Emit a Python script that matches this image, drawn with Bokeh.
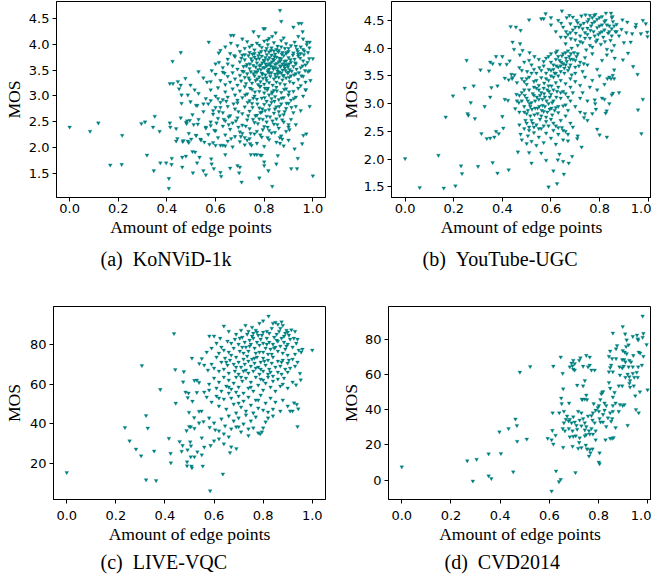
from bokeh.plotting import figure
from bokeh.models import Range1d, FixedTicker, PrintfTickFormatter, Title
from bokeh.layouts import row, column
from bokeh.embed import file_html
from bokeh.resources import INLINE

# ---------------- data ----------------
x_ticks = [0.0, 0.2, 0.4, 0.6, 0.8, 1.0]
mos5_ticks = [1.5, 2.0, 2.5, 3.0, 3.5, 4.0, 4.5]
livevqc_ticks = [20, 40, 60, 80]
cvd_ticks = [0, 20, 40, 60, 80]

x_label = "Amount of edge points"
y_label = "MOS"
captions = ["(a)\u2002KoNViD-1k", "(b)\u2002YouTube-UGC", "(c)\u2002LIVE-VQC", "(d)\u2002CVD2014"]

konvid_points = [
    (0.00, 2.40), (0.084, 2.32), (0.118, 2.48), (0.167, 1.67), (0.214, 1.68), (0.216, 2.24), (0.295, 2.47),
    (0.31, 2.50), (0.318, 1.86), (0.343, 2.40), (0.346, 1.56), (0.35, 2.61), (0.37, 2.32), (0.373, 1.71),
    (0.397, 1.71), (0.408, 1.41), (0.408, 1.22), (0.412, 3.24), (0.423, 3.67), (0.425, 3.24), (0.412, 2.48),
    (0.414, 2.40), (0.419, 1.68), (0.42, 1.80), (0.438, 2.37), (0.443, 2.18), (0.438, 2.13), (0.445, 3.28),
    (0.45, 3.14), (0.457, 3.84), (0.457, 3.21), (0.457, 2.58), (0.46, 3.02), (0.46, 2.86), (0.463, 1.82),
    (0.463, 1.63), (0.465, 2.12), (0.468, 2.14), (0.476, 3.34), (0.478, 1.84), (0.479, 2.49), (0.481, 2.47),
    (0.483, 2.52), (0.486, 3.02), (0.486, 2.13), (0.49, 2.10), (0.49, 2.28), (0.494, 2.53), (0.497, 2.89),
    (0.497, 3.21), (0.50, 2.17), (0.505, 1.93), (0.505, 2.64), (0.507, 1.52),
    (0.865, 4.65), (0.87, 4.44), (0.797, 4.30), (0.803, 4.30), (0.756, 4.24), (0.847, 4.22), (0.663, 4.17),
    (0.674, 4.17), (0.572, 4.04), (0.663, 4.02), (0.777, 4.15), (0.833, 4.15), (0.813, 4.08), (0.92, 4.33),
    (0.942, 4.40), (0.953, 4.40), (0.958, 4.24), (0.94, 4.15), (0.976, 4.04), (0.987, 4.04), (0.986, 3.93),
    (1.0, 3.72), (0.987, 3.49), (0.987, 2.80), (0.53, 3.47), (0.514, 3.12), (0.565, 3.27), (0.584, 3.49),
    (0.613, 3.83), (0.614, 3.65), (0.637, 3.44), (0.65, 3.62), (0.677, 3.78), (0.525, 2.82), (0.55, 2.85),
    (0.58, 2.91), (0.59, 2.72), (0.61, 2.95), (0.62, 2.78), (0.527, 2.46), (0.56, 2.40), (0.58, 2.43),
    (0.595, 2.34), (0.52, 2.24), (0.538, 2.17), (0.554, 2.11), (0.575, 2.07), (0.60, 2.05), (0.63, 2.05),
    (0.64, 2.04), (0.516, 1.92), (0.534, 1.82), (0.524, 1.71), (0.55, 1.56), (0.56, 1.48), (0.582, 1.79),
    (0.584, 1.69), (0.593, 1.60), (0.62, 1.53), (0.623, 1.45), (0.66, 1.61), (0.64, 1.87), (0.69, 1.66),
    (0.70, 1.63), (0.707, 1.34), (0.697, 1.52), (0.78, 1.42), (0.80, 1.73), (0.80, 1.66), (0.817, 1.56),
    (0.833, 1.26), (0.85, 1.69), (0.856, 1.85), (0.911, 1.60), (0.935, 1.60), (0.938, 1.80), (0.925, 1.98),
    (0.956, 2.08), (0.973, 2.27), (0.961, 2.24), (1.0, 1.46), (0.745, 1.87), (0.76, 1.87), (0.77, 1.87),
    (0.784, 1.86), (0.79, 1.86), (0.742, 2.08), (0.748, 2.05), (0.72, 2.20), (0.73, 2.15), (0.865, 2.09),
    (0.874, 2.17), (0.90, 2.40), (0.904, 2.35),
    (0.62, 3.88), (0.64, 3.95), (0.66, 3.82), (0.69, 3.97), (0.70, 3.86), (0.72, 3.92), (0.73, 4.05),
    (0.74, 3.84), (0.75, 3.98), (0.76, 3.89), (0.77, 4.02), (0.78, 3.83), (0.79, 3.94), (0.80, 4.06),
    (0.805, 3.87), (0.815, 3.99), (0.82, 3.85), (0.83, 3.93), (0.84, 4.03), (0.845, 3.81), (0.855, 3.96),
    (0.86, 3.88), (0.87, 4.07), (0.875, 3.84), (0.885, 3.92), (0.89, 4.01), (0.90, 3.86), (0.91, 3.97),
    (0.92, 3.83), (0.925, 4.04), (0.935, 3.90), (0.94, 3.81), (0.95, 3.95), (0.965, 3.87), (0.975, 3.99),
    (0.98, 3.84), (0.71, 4.10), (0.82, 4.11), (0.88, 4.12), (0.96, 4.10),
    (0.60, 3.62), (0.63, 3.55), (0.65, 3.71), (0.67, 3.58), (0.68, 3.76), (0.69, 3.52), (0.70, 3.66),
    (0.71, 3.79), (0.715, 3.57), (0.72, 3.70), (0.73, 3.61), (0.735, 3.78), (0.74, 3.53), (0.75, 3.68),
    (0.755, 3.59), (0.76, 3.75), (0.77, 3.64), (0.775, 3.51), (0.78, 3.72), (0.785, 3.60), (0.79, 3.77),
    (0.795, 3.55), (0.80, 3.67), (0.805, 3.74), (0.81, 3.58), (0.815, 3.70), (0.82, 3.52), (0.825, 3.63),
    (0.83, 3.79), (0.835, 3.56), (0.84, 3.69), (0.845, 3.61), (0.85, 3.75), (0.855, 3.53), (0.86, 3.66),
    (0.865, 3.58), (0.87, 3.72), (0.875, 3.62), (0.88, 3.78), (0.885, 3.54), (0.89, 3.68), (0.895, 3.60),
    (0.90, 3.74), (0.905, 3.51), (0.91, 3.65), (0.92, 3.57), (0.925, 3.71), (0.93, 3.62), (0.94, 3.77),
    (0.95, 3.55), (0.96, 3.68), (0.97, 3.60), (0.985, 3.72), (0.765, 3.56), (0.792, 3.64), (0.832, 3.66),
    (0.862, 3.73), (0.882, 3.58), (0.902, 3.62), (0.822, 3.74), (0.802, 3.55),
    (0.55, 3.35), (0.58, 3.28), (0.60, 3.42), (0.62, 3.30), (0.63, 3.46), (0.64, 3.22), (0.65, 3.38),
    (0.66, 3.27), (0.67, 3.45), (0.68, 3.33), (0.69, 3.21), (0.70, 3.40), (0.705, 3.29), (0.71, 3.48),
    (0.72, 3.36), (0.725, 3.24), (0.73, 3.43), (0.74, 3.31), (0.745, 3.47), (0.75, 3.25), (0.76, 3.39),
    (0.765, 3.30), (0.77, 3.46), (0.775, 3.22), (0.78, 3.37), (0.785, 3.28), (0.79, 3.44), (0.795, 3.34),
    (0.80, 3.23), (0.805, 3.41), (0.81, 3.30), (0.815, 3.49), (0.82, 3.26), (0.825, 3.38), (0.83, 3.45),
    (0.835, 3.21), (0.84, 3.33), (0.845, 3.42), (0.85, 3.27), (0.855, 3.48), (0.86, 3.36), (0.865, 3.24),
    (0.87, 3.44), (0.875, 3.31), (0.88, 3.40), (0.885, 3.22), (0.89, 3.35), (0.90, 3.46), (0.905, 3.28),
    (0.91, 3.39), (0.92, 3.25), (0.93, 3.43), (0.94, 3.32), (0.95, 3.20), (0.96, 3.38), (0.97, 3.27),
    (0.98, 3.47), (0.99, 3.30),
    (0.53, 3.05), (0.56, 2.95), (0.58, 3.12), (0.60, 3.00), (0.61, 3.16), (0.63, 2.93), (0.64, 3.08),
    (0.65, 2.98), (0.67, 3.14), (0.68, 3.02), (0.69, 2.92), (0.70, 3.10), (0.71, 2.97), (0.72, 3.18),
    (0.73, 3.04), (0.74, 2.91), (0.75, 3.13), (0.76, 3.00), (0.77, 2.94), (0.78, 3.09), (0.785, 3.19),
    (0.79, 2.96), (0.80, 3.06), (0.81, 2.90), (0.815, 3.15), (0.82, 3.02), (0.83, 2.95), (0.84, 3.11),
    (0.845, 2.99), (0.85, 3.17), (0.86, 2.93), (0.87, 3.07), (0.88, 2.97), (0.89, 3.14), (0.90, 3.02),
    (0.91, 2.92), (0.92, 3.09), (0.93, 2.98), (0.94, 3.15), (0.96, 3.00), (0.97, 3.12), (0.755, 2.96),
    (0.803, 3.15), (0.833, 3.08),
    (0.52, 2.82), (0.55, 2.70), (0.57, 2.85), (0.59, 2.65), (0.60, 2.78), (0.62, 2.88), (0.63, 2.68),
    (0.65, 2.80), (0.66, 2.62), (0.68, 2.75), (0.69, 2.87), (0.71, 2.66), (0.72, 2.79), (0.74, 2.71),
    (0.75, 2.86), (0.77, 2.63), (0.78, 2.77), (0.79, 2.69), (0.80, 2.84), (0.81, 2.61), (0.82, 2.74),
    (0.83, 2.88), (0.84, 2.67), (0.85, 2.79), (0.86, 2.70), (0.87, 2.85), (0.88, 2.64), (0.89, 2.76),
    (0.90, 2.86), (0.92, 2.68), (0.93, 2.80), (0.95, 2.72), (0.971, 3.12),
    (0.51, 2.45), (0.53, 2.55), (0.56, 2.38), (0.58, 2.50), (0.60, 2.33), (0.61, 2.57), (0.63, 2.42),
    (0.64, 2.52), (0.66, 2.36), (0.67, 2.48), (0.69, 2.58), (0.70, 2.31), (0.71, 2.44), (0.73, 2.54),
    (0.74, 2.37), (0.76, 2.49), (0.77, 2.32), (0.78, 2.56), (0.80, 2.41), (0.81, 2.50), (0.82, 2.34),
    (0.84, 2.46), (0.85, 2.56), (0.86, 2.38), (0.88, 2.50), (0.89, 2.32), (0.90, 2.45), (0.91, 2.55),
    (0.93, 2.45),
    (0.52, 2.24), (0.54, 2.15), (0.57, 2.26), (0.59, 2.10), (0.61, 2.20), (0.62, 2.05), (0.64, 2.25),
    (0.65, 2.13), (0.67, 2.02), (0.68, 2.22), (0.70, 2.12), (0.71, 2.28), (0.72, 2.06), (0.74, 2.18),
    (0.76, 2.27), (0.77, 2.09), (0.79, 2.21), (0.80, 2.03), (0.82, 2.16), (0.83, 2.29), (0.85, 2.11),
    (0.87, 2.23), (0.88, 2.04), (0.90, 2.15),
    (0.741, 3.62), (0.752, 3.81), (0.763, 3.47), (0.768, 3.71), (0.772, 3.33), (0.781, 3.58), (0.788, 3.86),
    (0.793, 3.42), (0.798, 3.69), (0.808, 3.35), (0.811, 3.80), (0.818, 3.61), (0.823, 3.44), (0.828, 3.88),
    (0.838, 3.52), (0.842, 3.76), (0.848, 3.37), (0.852, 3.63), (0.858, 3.85), (0.863, 3.46), (0.868, 3.57),
    (0.872, 3.81), (0.878, 3.39), (0.883, 3.67), (0.888, 3.49), (0.893, 3.84), (0.898, 3.56), (0.903, 3.36),
    (0.908, 3.70), (0.913, 3.48), (0.918, 3.79), (0.923, 3.41), (0.928, 3.64), (0.933, 3.52), (0.938, 3.86),
    (0.943, 3.45), (0.948, 3.73), (0.953, 3.39), (0.958, 3.58), (0.963, 3.80), (0.968, 3.49), (0.978, 3.65),
    (0.846, 3.55), (0.856, 3.43), (0.866, 3.68), (0.876, 3.50), (0.886, 3.61), (0.896, 3.44), (0.826, 3.58),
    (0.836, 3.71), (0.816, 3.46), (0.806, 3.62), (0.786, 3.51), (0.776, 3.78), (0.756, 3.43), (0.746, 3.72),
    (0.736, 3.35), (0.726, 3.58), (0.716, 3.47), (0.706, 3.73),
    (0.722, 3.02), (0.732, 2.88), (0.742, 3.15), (0.752, 2.78), (0.762, 3.08), (0.772, 2.85), (0.782, 3.18),
    (0.792, 2.75), (0.802, 2.97), (0.812, 3.12), (0.822, 2.82), (0.832, 3.05), (0.842, 2.90), (0.852, 3.10),
    (0.862, 2.80), (0.872, 2.96), (0.882, 3.13), (0.892, 2.86), (0.902, 3.08), (0.912, 2.78), (0.922, 2.95),
    (0.764, 2.62), (0.774, 2.47), (0.784, 2.68), (0.794, 2.55), (0.804, 2.72), (0.814, 2.40), (0.824, 2.60),
    (0.834, 2.52), (0.844, 2.75), (0.854, 2.45), (0.864, 2.62), (0.874, 2.54), (0.884, 2.70), (0.694, 2.70),
    (0.684, 2.52), (0.674, 2.85), (0.654, 2.60), (0.644, 2.90), (0.634, 2.55), (0.614, 2.70), (0.604, 2.48),
    (0.724, 2.42), (0.734, 2.62), (0.744, 2.28), (0.754, 2.55), (0.704, 2.22), (0.694, 2.40), (0.664, 2.18),
    (0.654, 2.45), (0.784, 2.25), (0.794, 2.35), (0.814, 2.20), (0.844, 2.30), (0.864, 2.20),
    (0.72, 3.80), (0.74, 3.95), (0.78, 3.98), (0.81, 3.92), (0.85, 3.90), (0.87, 3.95), (0.90, 3.92),
    (0.93, 3.96), (0.89, 3.82), (0.84, 3.87), (0.76, 3.82), (0.96, 3.90), (0.95, 3.82),
]

youtube_points = [
    (0.0, 2.01), (0.06, 1.49), (0.137, 2.07), (0.159, 1.48), (0.207, 1.52), (0.167, 2.76), (0.197, 3.14),
    (0.23, 1.88), (0.234, 1.74), (0.245, 3.28), (0.253, 3.78), (0.257, 2.82), (0.26, 2.79), (0.27, 3.02),
    (0.282, 3.32), (0.287, 2.73), (0.30, 1.87), (0.31, 3.61), (0.314, 2.46), (0.327, 2.95), (0.336, 2.37),
    (0.35, 2.38), (0.345, 3.59), (0.35, 3.12), (0.35, 3.75), (0.36, 3.72), (0.355, 3.29), (0.36, 1.94),
    (0.367, 2.40), (0.374, 2.50), (0.38, 1.75), (0.38, 3.32), (0.374, 3.85), (0.385, 2.46), (0.39, 3.71),
    (0.40, 3.85), (0.40, 2.77), (0.404, 2.56), (0.41, 3.46), (0.41, 3.08), (0.418, 3.71), (0.423, 3.06),
    (0.426, 1.81), (0.426, 3.43), (0.43, 3.77), (0.434, 4.39), (0.456, 4.38), (0.437, 3.53), (0.442, 4.11),
    (0.442, 3.47), (0.448, 3.98), (0.453, 2.91), (0.458, 3.17), (0.464, 2.13), (0.468, 3.02), (0.473, 4.08),
    (0.475, 4.32), (0.483, 3.96),
    (0.645, 4.67), (0.578, 4.62), (0.56, 4.53), (0.57, 4.53), (0.51, 4.51), (0.60, 4.55), (0.676, 4.59),
    (0.69, 4.56), (0.76, 4.59), (0.778, 4.59), (0.826, 4.63), (0.847, 4.63), (0.853, 4.57), (0.894, 4.51),
    (0.914, 4.47), (0.95, 4.43), (0.978, 4.50), (0.99, 4.44), (0.996, 4.29), (0.997, 4.21), (0.97, 4.26),
    (0.934, 4.26), (0.948, 4.38), (0.928, 4.11), (0.917, 3.91), (0.896, 3.79), (0.938, 3.67), (0.956, 3.53),
    (0.978, 3.08), (0.958, 2.89), (0.972, 2.46), (0.86, 3.61), (0.854, 3.51), (0.84, 3.48), (0.832, 3.45),
    (0.847, 3.45), (0.855, 3.19), (0.85, 3.16), (0.829, 2.87), (0.825, 2.83), (0.82, 3.08), (0.79, 2.54),
    (0.80, 2.44), (0.83, 2.40), (0.78, 3.07), (0.782, 3.00), (0.77, 2.82), (0.74, 2.82), (0.736, 2.75),
    (0.726, 2.22), (0.708, 2.37), (0.687, 2.05), (0.673, 1.93), (0.65, 1.96), (0.635, 2.09), (0.628, 1.99),
    (0.61, 1.79), (0.653, 1.73), (0.58, 1.98), (0.56, 2.11), (0.52, 1.93), (0.51, 2.12), (0.59, 1.50),
    (0.625, 1.56), (0.67, 2.33), (0.65, 2.52), (0.66, 2.50), (0.63, 2.57), (0.645, 2.57),
    (0.60, 4.42), (0.62, 4.30), (0.63, 4.50), (0.64, 4.20), (0.65, 4.38), (0.66, 4.08), (0.665, 4.55),
    (0.67, 4.25), (0.68, 4.44), (0.685, 4.00), (0.69, 4.33), (0.70, 4.15), (0.705, 4.50), (0.71, 4.05),
    (0.715, 4.38), (0.72, 4.22), (0.725, 4.58), (0.73, 4.10), (0.735, 4.45), (0.74, 4.28), (0.745, 3.97),
    (0.75, 4.36), (0.755, 4.52), (0.76, 4.18), (0.765, 4.40), (0.77, 4.02), (0.775, 4.30), (0.78, 4.48),
    (0.785, 4.12), (0.79, 4.37), (0.795, 4.25), (0.80, 4.55), (0.805, 4.07), (0.81, 4.42), (0.815, 4.20),
    (0.82, 4.33), (0.825, 4.50), (0.83, 3.98), (0.835, 4.27), (0.84, 4.40), (0.845, 4.14), (0.85, 4.35),
    (0.855, 4.48), (0.86, 4.05), (0.865, 4.30), (0.87, 4.43), (0.88, 4.22), (0.89, 4.34), (0.90, 4.10),
    (0.91, 4.28), (0.742, 4.60), (0.783, 4.61), (0.722, 4.42), (0.762, 4.32), (0.802, 4.28), (0.822, 4.12),
    (0.702, 4.27), (0.682, 4.17), (0.662, 4.30), (0.642, 4.45),
    (0.58, 3.82), (0.59, 3.62), (0.60, 3.90), (0.61, 3.70), (0.615, 3.55), (0.62, 3.80), (0.625, 3.95),
    (0.63, 3.66), (0.635, 3.78), (0.64, 3.58), (0.645, 3.86), (0.65, 3.72), (0.655, 3.64), (0.66, 3.92),
    (0.665, 3.76), (0.67, 3.60), (0.675, 3.85), (0.68, 3.70), (0.685, 3.52), (0.69, 3.80), (0.70, 3.66),
    (0.71, 3.90), (0.72, 3.75), (0.73, 3.58), (0.74, 3.83), (0.75, 3.70), (0.77, 3.90), (0.79, 3.62),
    (0.81, 3.78), (0.83, 3.88), (0.85, 3.95), (0.862, 3.82), (0.642, 3.75), (0.662, 3.82), (0.622, 3.68),
    (0.682, 3.90),
    (0.45, 3.52), (0.46, 3.38), (0.47, 3.65), (0.48, 3.45), (0.49, 3.75), (0.50, 3.35), (0.502, 3.58),
    (0.51, 3.48), (0.52, 3.70), (0.53, 3.40), (0.532, 3.85), (0.54, 3.55), (0.55, 3.33), (0.552, 3.65),
    (0.56, 3.47), (0.57, 3.76), (0.572, 3.37), (0.58, 3.55), (0.59, 3.42), (0.60, 3.60), (0.602, 3.32),
    (0.61, 3.48), (0.62, 3.38), (0.63, 3.50), (0.64, 3.42), (0.66, 3.36), (0.68, 3.45), (0.70, 3.40),
    (0.72, 3.33), (0.74, 3.48), (0.76, 3.30), (0.44, 3.45), (0.472, 3.88), (0.512, 3.92),
    (0.46, 3.05), (0.47, 2.85), (0.48, 3.20), (0.49, 2.95), (0.495, 2.70), (0.50, 3.10), (0.505, 2.88),
    (0.51, 3.25), (0.515, 2.78), (0.52, 3.02), (0.525, 2.65), (0.53, 3.15), (0.535, 2.92), (0.54, 3.28),
    (0.545, 2.82), (0.55, 3.08), (0.555, 2.72), (0.56, 3.20), (0.565, 2.97), (0.57, 2.86), (0.575, 3.12),
    (0.58, 2.76), (0.585, 3.25), (0.59, 3.00), (0.595, 2.90), (0.60, 3.17), (0.605, 2.80), (0.61, 3.05),
    (0.62, 2.93), (0.625, 3.22), (0.63, 2.84), (0.64, 3.10), (0.65, 2.96), (0.66, 3.18), (0.67, 2.88),
    (0.68, 3.05), (0.70, 2.95), (0.72, 3.10), (0.522, 2.90), (0.542, 3.12), (0.562, 2.88), (0.582, 3.05),
    (0.552, 2.95), (0.572, 3.18), (0.532, 2.80), (0.602, 2.92), (0.622, 3.12), (0.512, 3.00), (0.592, 3.22),
    (0.50, 2.82), (0.47, 2.62), (0.492, 3.15), (0.64, 2.70), (0.66, 2.78), (0.68, 2.65),
    (0.475, 2.45), (0.48, 2.35), (0.49, 2.55), (0.50, 2.28), (0.505, 2.42), (0.51, 2.58), (0.52, 2.32),
    (0.53, 2.48), (0.54, 2.25), (0.55, 2.40), (0.56, 2.55), (0.57, 2.30), (0.58, 2.47), (0.59, 2.60),
    (0.60, 2.38), (0.61, 2.52), (0.62, 2.27), (0.63, 2.45), (0.65, 2.35), (0.67, 2.45), (0.69, 2.58),
    (0.71, 2.42),
    (0.73, 3.20), (0.75, 3.05), (0.77, 3.42), (0.785, 2.90), (0.79, 3.25), (0.80, 3.50), (0.81, 3.10),
    (0.82, 3.35), (0.84, 3.00), (0.86, 3.45), (0.88, 3.20), (0.75, 2.70), (0.72, 2.85), (0.70, 3.55),
    (0.68, 3.30),
    (0.505, 3.05), (0.515, 2.95), (0.525, 3.18), (0.535, 3.05), (0.545, 2.92), (0.555, 3.15), (0.565, 3.08),
    (0.575, 2.95), (0.585, 2.85), (0.595, 3.12), (0.605, 3.02), (0.615, 2.88), (0.52, 2.70), (0.54, 2.62),
    (0.56, 2.78), (0.58, 2.68), (0.60, 2.72), (0.62, 2.60), (0.50, 2.65), (0.53, 3.30), (0.55, 3.25),
    (0.57, 3.28), (0.59, 3.32), (0.61, 3.25), (0.63, 3.30), (0.65, 3.22), (0.49, 3.25), (0.47, 3.15),
    (0.48, 3.05), (0.49, 2.85), (0.57, 2.60), (0.55, 2.55), (0.53, 2.58), (0.51, 2.52), (0.61, 2.65),
    (0.63, 2.95), (0.64, 3.20), (0.66, 2.98), (0.67, 3.12), (0.69, 3.20),
    (0.63, 3.85), (0.65, 3.90), (0.67, 3.95), (0.64, 3.68), (0.66, 3.70), (0.68, 3.80), (0.70, 3.78),
    (0.62, 3.92), (0.60, 3.75), (0.655, 3.55), (0.675, 3.65), (0.695, 3.92), (0.715, 3.68), (0.735, 3.72),
    (0.705, 3.85),
    (0.73, 4.35), (0.75, 4.25), (0.77, 4.45), (0.79, 4.15), (0.81, 4.30), (0.83, 4.42), (0.85, 4.22),
    (0.87, 4.30), (0.76, 4.05), (0.78, 4.22), (0.80, 4.40), (0.82, 4.48), (0.84, 4.30), (0.86, 4.40),
    (0.72, 4.12), (0.74, 4.18), (0.70, 4.38), (0.68, 4.28), (0.66, 4.20), (0.77, 4.55), (0.81, 4.57),
    (0.85, 4.55), (0.79, 4.52), (0.75, 4.48), (0.71, 4.46),
    (0.50, 3.45), (0.52, 3.55), (0.54, 3.42), (0.56, 3.60), (0.58, 3.45), (0.60, 3.50), (0.62, 3.55),
    (0.48, 3.60), (0.51, 3.78), (0.55, 3.80), (0.57, 3.68), (0.59, 3.85), (0.61, 3.62), (0.53, 3.62),
    (0.49, 3.40),
]

livevqc_points = [
    (0.0, 15.6), (0.237, 38.2), (0.256, 31.5), (0.282, 27.4), (0.303, 24.0), (0.306, 69.3), (0.323, 44.2),
    (0.33, 37.9), (0.323, 12.0), (0.364, 11.6), (0.356, 26.4), (0.381, 57.3), (0.416, 32.8), (0.423, 25.3),
    (0.424, 20.5), (0.437, 85.3), (0.442, 67.3), (0.444, 50.4), (0.46, 31.2), (0.468, 26.3), (0.472, 29.2),
    (0.477, 66.2), (0.474, 61.1), (0.484, 56.0), (0.49, 19.0), (0.49, 21.0), (0.493, 53.2), (0.499, 38.7),
    (0.488, 36.6), (0.498, 45.8), (0.505, 23.5),
    (0.822, 94.1), (0.80, 91.7), (0.64, 89.1), (0.581, 84.1), (0.60, 84.1), (0.728, 89.5), (0.755, 88.5),
    (0.77, 87.0), (0.785, 90.5), (0.84, 90.5), (0.85, 91.0), (0.86, 90.0), (0.875, 91.2), (0.88, 89.5),
    (0.87, 88.0), (0.895, 87.0), (0.90, 86.0), (0.915, 87.2), (0.93, 86.5), (0.89, 85.5), (0.835, 88.0),
    (0.815, 86.5), (0.80, 86.0), (0.76, 85.5), (0.74, 86.5), (0.71, 87.0), (0.66, 86.5), (0.69, 85.0),
    (0.78, 84.5), (0.855, 85.0), (0.905, 84.5), (0.925, 83.0), (0.94, 82.5),
    (0.51, 73.0), (0.55, 72.8), (0.54, 70.3), (0.56, 69.5), (0.61, 80.5), (0.625, 83.0), (0.655, 81.5),
    (0.67, 80.5), (0.685, 82.5), (0.70, 80.0), (0.715, 83.5), (0.725, 81.0), (0.73, 78.5), (0.745, 82.0),
    (0.75, 80.0), (0.76, 83.0), (0.765, 78.0), (0.775, 81.0), (0.785, 79.5), (0.79, 82.5), (0.80, 80.5),
    (0.81, 78.0), (0.815, 83.0), (0.825, 81.0), (0.83, 77.5), (0.84, 80.0), (0.845, 83.5), (0.85, 78.5),
    (0.86, 81.5), (0.87, 79.0), (0.875, 83.0), (0.885, 81.0), (0.89, 77.5), (0.90, 80.0), (0.91, 82.5),
    (0.92, 78.5), (0.935, 80.5), (0.945, 77.0), (0.955, 76.0), (0.96, 77.5), (1.0, 77.0), (0.64, 77.0),
    (0.66, 76.0), (0.68, 78.0), (0.705, 76.5), (0.72, 75.5), (0.74, 76.5), (0.77, 75.5), (0.80, 76.0),
    (0.82, 75.0), (0.86, 76.5), (0.88, 75.5), (0.90, 74.5), (0.93, 75.0), (0.59, 78.0), (0.62, 75.5),
    (0.57, 76.0),
    (0.61, 73.5), (0.63, 71.0), (0.645, 73.0), (0.655, 69.5), (0.665, 72.0), (0.68, 70.0), (0.69, 73.5),
    (0.70, 71.0), (0.71, 68.5), (0.72, 72.5), (0.725, 70.0), (0.735, 74.0), (0.74, 71.5), (0.75, 69.0),
    (0.755, 72.5), (0.765, 70.5), (0.775, 73.5), (0.78, 68.5), (0.79, 71.0), (0.80, 73.0), (0.81, 69.5),
    (0.82, 72.0), (0.825, 67.5), (0.835, 70.5), (0.84, 73.5), (0.85, 68.5), (0.86, 71.5), (0.87, 69.0),
    (0.88, 72.0), (0.89, 67.5), (0.90, 70.5), (0.91, 68.0), (0.92, 72.5), (0.93, 69.0), (0.94, 71.0),
    (0.95, 65.4), (0.953, 62.1), (0.62, 66.5), (0.64, 67.5), (0.66, 65.5), (0.685, 66.5), (0.70, 65.0),
    (0.72, 66.5), (0.74, 65.5), (0.76, 66.5), (0.785, 65.0), (0.80, 66.5), (0.82, 65.0), (0.86, 66.0),
    (0.875, 65.0), (0.90, 66.0), (0.59, 70.0), (0.575, 67.0), (0.60, 68.0), (0.53, 62.0), (0.52, 61.8),
    (0.539, 60.8),
    (0.496, 55.5), (0.53, 55.8), (0.58, 60.0), (0.60, 63.0), (0.62, 61.0), (0.64, 63.5), (0.65, 59.0),
    (0.66, 62.0), (0.67, 57.5), (0.68, 60.5), (0.69, 63.5), (0.70, 58.5), (0.715, 61.5), (0.73, 63.0),
    (0.74, 58.0), (0.75, 61.0), (0.76, 56.5), (0.77, 63.5), (0.78, 59.5), (0.79, 62.5), (0.80, 57.0),
    (0.81, 60.5), (0.82, 63.5), (0.83, 58.5), (0.84, 61.5), (0.85, 56.5), (0.86, 62.5), (0.87, 59.0),
    (0.885, 63.0), (0.90, 58.0), (0.934, 59.6), (0.92, 61.0), (0.63, 56.5), (0.66, 55.5), (0.69, 56.0),
    (0.72, 55.5), (0.58, 57.0), (0.56, 56.0), (0.61, 58.0),
    (0.512, 51.4), (0.539, 46.3), (0.549, 46.5), (0.57, 53.5), (0.59, 51.0), (0.61, 54.0), (0.62, 49.0),
    (0.64, 52.5), (0.65, 47.5), (0.67, 53.0), (0.68, 50.0), (0.70, 54.0), (0.71, 48.5), (0.72, 51.5),
    (0.73, 46.5), (0.74, 53.5), (0.75, 49.5), (0.76, 45.5), (0.77, 52.0), (0.78, 48.0), (0.79, 54.5),
    (0.80, 47.0), (0.81, 50.5), (0.82, 46.0), (0.83, 53.0), (0.84, 47.5), (0.85, 51.0), (0.87, 46.5),
    (0.91, 46.5), (0.92, 46.5), (0.926, 50.6), (0.937, 49.8), (0.943, 47.6), (0.90, 49.0), (0.88, 52.0),
    (0.69, 45.5),
    (0.519, 43.2), (0.539, 40.5), (0.557, 41.2), (0.505, 38.6), (0.52, 37.8), (0.55, 33.0), (0.582, 38.3),
    (0.58, 43.0), (0.60, 40.5), (0.62, 36.5), (0.63, 42.5), (0.645, 39.0), (0.66, 44.0), (0.67, 37.5),
    (0.68, 41.5), (0.69, 38.5), (0.70, 43.0), (0.71, 36.0), (0.72, 40.0), (0.73, 44.5), (0.74, 37.5),
    (0.75, 41.5), (0.76, 38.0), (0.77, 43.5), (0.78, 35.5), (0.788, 35.0), (0.795, 36.0), (0.80, 38.0),
    (0.81, 41.0), (0.82, 43.0), (0.84, 44.0), (0.94, 38.7), (0.74, 34.2), (0.64, 35.0), (0.605, 37.0),
    (0.70, 38.5),
    (0.586, 29.2), (0.56, 28.4), (0.503, 31.0), (0.506, 29.0), (0.532, 26.0), (0.492, 27.0), (0.508, 18.9),
    (0.51, 18.0), (0.554, 18.9), (0.636, 14.9), (0.584, 6.5), (0.665, 25.6), (0.691, 27.6), (0.62, 32.5),
    (0.60, 31.5), (0.64, 30.0), (0.66, 33.5), (0.67, 28.5), (0.52, 23.5), (0.55, 24.5),
    (0.705, 83.0), (0.715, 78.5), (0.735, 85.0), (0.745, 79.0), (0.755, 84.0), (0.765, 73.0), (0.775, 86.0),
    (0.785, 76.0), (0.795, 84.5), (0.805, 71.5), (0.815, 80.0), (0.825, 85.5), (0.835, 75.0), (0.845, 78.0),
    (0.855, 82.0), (0.865, 86.5), (0.875, 71.0), (0.885, 84.0), (0.895, 79.0), (0.905, 72.0), (0.79, 67.5),
    (0.83, 66.0), (0.77, 68.0), (0.73, 67.0), (0.69, 68.5), (0.65, 71.0), (0.67, 74.5), (0.63, 78.5),
    (0.75, 58.5), (0.71, 63.5), (0.80, 62.0), (0.84, 64.0), (0.88, 60.0), (0.66, 58.5), (0.62, 53.0),
    (0.70, 50.5), (0.78, 52.0),
]

cvd2014_points = [
    (0.0, 7.5), (0.266, 11.0), (0.304, 11.8), (0.289, -0.5), (0.353, 14.9), (0.353, 2.4), (0.364, 0.9),
    (0.403, 15.1), (0.397, 27.4), (0.434, 29.3), (0.453, 4.7), (0.462, 34.7), (0.468, 31.0), (0.469, 22.0),
    (0.48, 61.3), (0.508, 23.3), (0.522, 64.5),
    (0.979, 93.2), (0.898, 87.2), (0.858, 83.5), (0.908, 83.0), (0.956, 82.4), (0.982, 83.3), (0.939, 81.6),
    (0.959, 80.2), (0.961, 79.6), (0.979, 81.1), (0.914, 79.6), (0.922, 76.8), (0.912, 75.9), (0.875, 76.4),
    (0.871, 74.6), (0.995, 77.0), (0.847, 73.3), (0.898, 73.6), (0.906, 72.7), (0.914, 71.8), (0.963, 72.7),
    (0.969, 72.2), (0.941, 70.8), (0.982, 70.3), (0.842, 70.3), (0.855, 69.0), (0.871, 69.0), (0.896, 68.4),
    (0.904, 68.4), (0.925, 68.0), (0.932, 67.1), (0.909, 67.1), (0.976, 65.3), (0.961, 64.3), (0.939, 64.3),
    (0.922, 64.3), (0.902, 64.7), (0.851, 65.3), (0.847, 63.9), (0.858, 61.5), (0.842, 61.5), (0.885, 64.3),
    (0.896, 63.7), (0.887, 59.7), (0.955, 61.2), (0.939, 60.6), (0.918, 60.2), (0.925, 58.7), (0.909, 58.4),
    (0.928, 56.5), (0.945, 58.4), (0.959, 58.4), (0.925, 55.0), (0.896, 53.5), (0.882, 53.5), (0.943, 53.5),
    (0.999, 51.3), (0.968, 50.2), (0.949, 47.9), (0.928, 52.8), (0.842, 55.4), (0.847, 52.2), (0.818, 50.3),
    (0.811, 49.0), (0.865, 49.8), (0.858, 47.2), (0.75, 70.8), (0.764, 69.9), (0.726, 69.5), (0.721, 68.0),
    (0.697, 68.0), (0.69, 66.5), (0.703, 66.2), (0.694, 64.9), (0.683, 64.3), (0.697, 63.0), (0.703, 62.5),
    (0.737, 64.7), (0.757, 64.3), (0.764, 65.3), (0.771, 62.5), (0.784, 62.5), (0.646, 69.9), (0.616, 64.7),
    (0.654, 60.6), (0.713, 53.9), (0.737, 53.5), (0.744, 56.5), (0.656, 51.8), (0.648, 46.6), (0.65, 43.4),
    (0.68, 43.8), (0.732, 46.0), (0.744, 46.0), (0.75, 48.3), (0.734, 45.7), (0.753, 45.7), (0.78, 43.4),
    (0.815, 49.8), (0.807, 45.7), (0.801, 42.3), (0.824, 43.8), (0.831, 42.3), (0.797, 41.2), (0.869, 43.8),
    (0.858, 42.3), (0.887, 42.9), (0.898, 42.3), (0.905, 42.9), (0.788, 39.7), (0.777, 38.2), (0.801, 39.1),
    (0.824, 39.7), (0.818, 37.3), (0.838, 35.4), (0.847, 38.2), (0.858, 39.1), (0.882, 39.0), (0.952, 40.1),
    (0.963, 38.2), (0.613, 38.2), (0.64, 38.2), (0.659, 39.1), (0.717, 39.1), (0.73, 38.2), (0.672, 36.4),
    (0.697, 36.0), (0.683, 34.5), (0.667, 34.5), (0.659, 32.6), (0.678, 33.6), (0.69, 32.6), (0.703, 33.0),
    (0.723, 34.1), (0.737, 34.9), (0.744, 32.6), (0.757, 36.4), (0.771, 36.7), (0.775, 34.1), (0.784, 32.6),
    (0.804, 34.9), (0.808, 33.0), (0.818, 33.0), (0.851, 33.4), (0.855, 34.9), (0.831, 30.4), (0.869, 29.8),
    (0.654, 29.3), (0.663, 28.0), (0.679, 29.3), (0.694, 28.0), (0.71, 31.1), (0.713, 28.9), (0.73, 30.8),
    (0.75, 30.4), (0.744, 28.5), (0.761, 28.0), (0.771, 29.3), (0.788, 28.0), (0.683, 24.6), (0.697, 24.8),
    (0.707, 25.2), (0.723, 24.0), (0.744, 25.2), (0.75, 25.9), (0.764, 26.1), (0.777, 26.1), (0.788, 22.9),
    (0.828, 22.9), (0.847, 23.7), (0.855, 23.7), (0.861, 24.2), (0.612, 28.2), (0.625, 25.5), (0.593, 23.7),
    (0.609, 22.9), (0.616, 20.5), (0.656, 18.6), (0.694, 19.2), (0.721, 21.4), (0.717, 18.1), (0.73, 18.5),
    (0.748, 19.9), (0.753, 17.7), (0.764, 17.3), (0.775, 17.7), (0.767, 15.5), (0.761, 13.6), (0.804, 15.5),
    (0.801, 10.2), (0.804, 9.3), (0.627, 5.2), (0.706, 4.3), (0.646, 0.4), (0.639, -0.9), (0.609, -6.2),
    (0.918, 31.1),
]

# ---------------- styling ----------------
TEAL = "#008080"
SERIF = "Liberation Serif"
SANS = "DejaVu Sans"


def make_panel(points, xr, yr, yticks, yfmt, caption, width, height, bl, br, bt, bb,
               ylabel_standoff, tick_standoff, xlabel_standoff, cap_offset, cap_standoff):
    p = figure(width=width, height=height, output_backend="svg", toolbar_location=None,
               x_range=Range1d(*xr), y_range=Range1d(*yr),
               min_border_left=bl, min_border_right=br, min_border_top=bt, min_border_bottom=bb)
    p.grid.visible = False
    p.outline_line_color = "black"
    p.outline_line_width = 1
    p.background_fill_color = "white"
    p.border_fill_color = "white"

    xs = [pt[0] for pt in points]
    ys = [pt[1] for pt in points]
    p.scatter(xs, ys, marker="inverted_triangle", size=3.8,
              fill_color=TEAL, line_color=TEAL, line_width=0.3)

    for ax in (p.xaxis[0], p.yaxis[0]):
        ax.axis_line_color = "black"
        ax.major_tick_line_color = "black"
        ax.major_tick_out = 4
        ax.major_tick_in = 0
        ax.minor_tick_out = 0
        ax.minor_tick_in = 0
        ax.major_label_text_font = SANS
        ax.major_label_text_font_size = "13px"
        ax.major_label_text_color = "black"
        ax.axis_label_text_font = SERIF
        ax.axis_label_text_font_style = "normal"
        ax.axis_label_text_font_size = "17.6px"
        ax.axis_label_text_color = "black"

    p.xaxis.ticker = FixedTicker(ticks=x_ticks)
    p.xaxis.formatter = PrintfTickFormatter(format="%.1f")
    p.xaxis.major_label_standoff = tick_standoff
    p.xaxis.axis_label = x_label
    p.xaxis.axis_label_standoff = xlabel_standoff

    p.yaxis.ticker = FixedTicker(ticks=yticks)
    p.yaxis.formatter = PrintfTickFormatter(format=yfmt)
    p.yaxis.major_label_standoff = 3
    p.yaxis.axis_label = y_label
    p.yaxis.axis_label_standoff = ylabel_standoff

    p.add_layout(Title(text=caption, align="left", offset=cap_offset, standoff=cap_standoff,
                       text_font=SERIF, text_font_size="20px", text_font_style="normal",
                       text_color="black"), "below")
    return p


pa = make_panel(konvid_points, (-0.054, 1.052), (1.043, 4.822), mos5_ticks, "%.1f", captions[0],
                337, 296, 54, 12, 1, 99, 2, 2, 1, 44, 13)
pb = make_panel(youtube_points, (-0.056, 1.0135), (1.31, 4.84), mos5_ticks, "%.1f", captions[1],
                314, 296, 52, 0, 1, 99, 0, 2, 1, 31, 13)
pc = make_panel(livevqc_points, (-0.054, 1.054), (2.1, 98.9), livevqc_ticks, "%d", captions[2],
                337, 278, 51, 12, 10, 72, 3, 7, 1, 47, 4)
pd = make_panel(cvd2014_points, (-0.054, 1.015), (-11.0, 98.6), cvd_ticks, "%d", captions[3],
                314, 278, 49, 0, 10, 72, 1, 7, 1, 56, 4)

layout = column(row(pa, pb, spacing=0), row(pc, pd, spacing=0), spacing=0)

with open("out.html", "w") as f:
    f.write(file_html(layout, INLINE))
